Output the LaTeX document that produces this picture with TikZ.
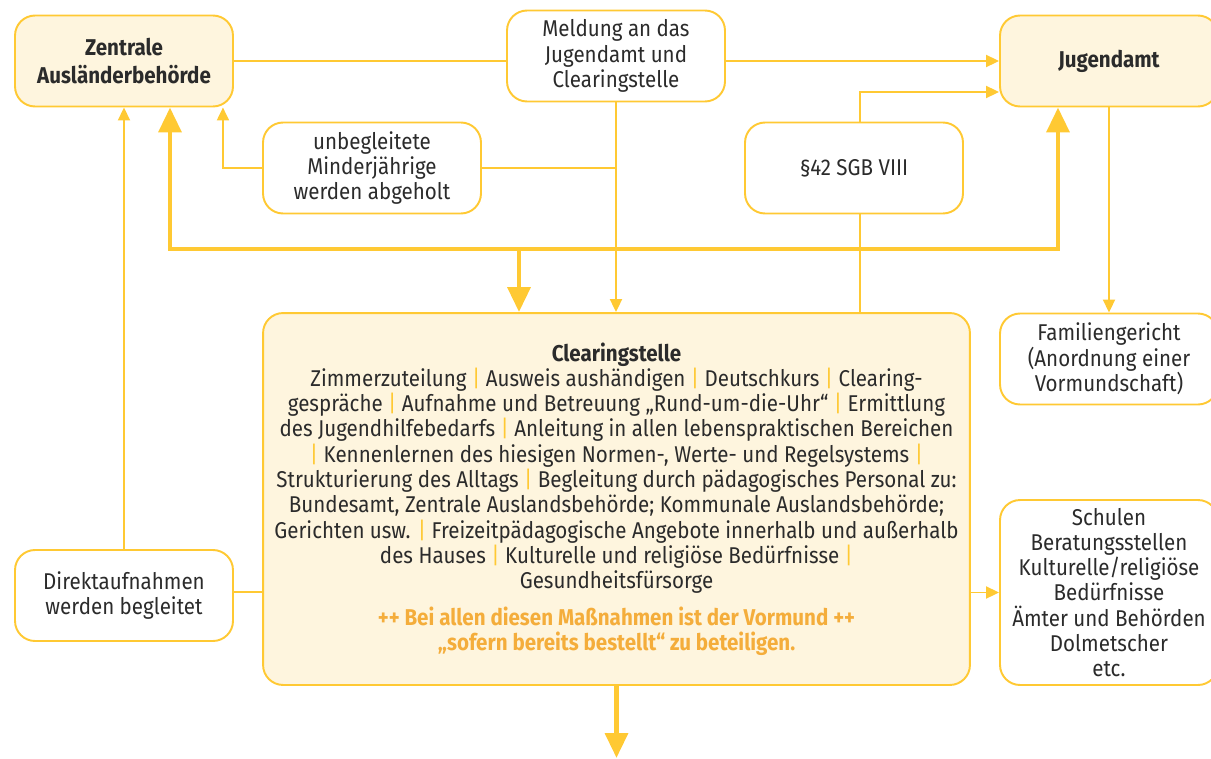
\documentclass[tikz,border=0pt]{standalone}
\usepackage{fontspec}
\setmainfont{Fira Sans}[FakeStretch=0.9]
\usepackage{tikz}
\usetikzlibrary{arrows.meta}
\definecolor{ClGold}{HTML}{FFC933}
\definecolor{ClCream}{HTML}{FEF5DE}
\definecolor{ClOrange}{HTML}{F4AD3B}
\definecolor{ClInk}{HTML}{2B2B2B}
\newcommand{\vsep}{\textcolor{ClGold}{|}}

\begin{document}
\begin{tikzpicture}[
  x=0.02cm, y=-0.02cm,
  font=\fontsize{13}{14.4}\selectfont,
  whitebox/.style={draw=ClGold, fill=white, line width=1.1pt, rounded corners=0.4cm, minimum width=4.36cm, minimum height=1.82cm, align=center, text=ClInk, inner sep=2pt},
  creambox/.style={whitebox, fill=ClCream},
  hd/.style={font=\fontsize{13}{15.4}\selectfont\bfseries},
  ln/.style={draw=ClGold, line width=1.1pt},
  ar/.style={ln, -{Triangle[length=0.26cm, width=0.24cm]}},
  bigln/.style={draw=ClGold, line width=2.8pt},
  bigar/.style={bigln, -{Triangle[length=0.5cm, width=0.45cm]}}
]
\useasboundingbox (0,0) rectangle (1211,758);
\node[creambox, hd] (zab) at (124,61) {Zentrale\\Ausländerbehörde};
\node[whitebox] (meld) at (616,56) {Meldung an das\\Jugendamt und\\Clearingstelle};
\node[creambox, hd] (jug) at (1109,61) {Jugendamt};
\node[whitebox] (unb) at (372,168) {unbegleitete\\Minderjährige\\werden abgeholt};
\node[whitebox] (sgb) at (854,168) {§42 SGB VIII};
\node[creambox, minimum width=14.14cm, minimum height=7.44cm] (cs) at (616.5,499) {{\bfseries Clearingstelle}\\
  Zimmerzuteilung \vsep{} Ausweis aushändigen \vsep{} Deutschkurs \vsep{} Clearing-\\
  gespräche \vsep{} Aufnahme und Betreuung „Rund-um-die-Uhr“ \vsep{} Ermittlung\\
  des Jugendhilfebedarfs \vsep{} Anleitung in allen lebenspraktischen Bereichen\\
  \vsep{} Kennenlernen des hiesigen Normen-, Werte- und Regelsystems \vsep\\
  Strukturierung des Alltags \vsep{} Begleitung durch pädagogisches Personal zu:\\
  Bundesamt, Zentrale Auslandsbehörde; Kommunale Auslandsbehörde;\\
  Gerichten usw. \vsep{} Freizeitpädagogische Angebote innerhalb und außerhalb\\
  des Hauses \vsep{} Kulturelle und religiöse Bedürfnisse \vsep\\
  Gesundheitsfürsorge\\[0.22cm]
  {\color{ClOrange}\bfseries ++ Bei allen diesen Maßnahmen ist der Vormund ++}\\
  {\color{ClOrange}\bfseries „sofern bereits bestellt“ zu beteiligen.}};
\node[whitebox] (fam) at (1109,359) {Familiengericht\\(Anordnung einer\\Vormundschaft)};
\node[whitebox, minimum height=3.7cm] (sch) at (1109,592.5) {Schulen\\Beratungsstellen\\Kulturelle/religiöse\\Bedürfnisse\\Ämter und Behörden\\Dolmetscher\\etc.};
\node[whitebox] (dir) at (124,595.5) {Direktaufnahmen\\werden begleitet};
\coordinate (hl) at (170,249);
\coordinate (hr) at (1058,249);
\coordinate (hm) at (519,249);
\coordinate (exit) at (616.5,758);
\draw[ln] (zab.east) -- (zab.east -| meld.west);
\draw[ar] (meld.east |- jug.west) -- (jug.west);
\draw[ar] (meld.south) -- (meld.south |- cs.north);
\draw[ln] (unb.east) -- (unb.east -| meld.south);
\draw[ar] (unb.west) -| ([xshift=-0.22cm]zab.south east);
\draw[ar] ([xshift=0.12cm]sgb.north) |- ([yshift=-0.62cm]jug.west);
\draw[ln] ([xshift=0.12cm]sgb.south) -- ([xshift=0.12cm]sgb.south |- cs.north);
\draw[bigln, {Triangle[length=0.5cm, width=0.45cm]}-{Triangle[length=0.5cm, width=0.45cm]}] (zab.south -| hl) -- (hl) -- (hr) -- (jug.south -| hr);
\draw[bigar] (hm) -- (hm |- cs.north);
\draw[ar] (jug.south) -- (fam.north);
\draw[ar] (sch.west -| cs.east) -- (sch.west);
\draw[ar] (dir.north) -- (zab.south);
\draw[ln] ([yshift=0.07cm]dir.east) -- ([yshift=0.07cm]dir.east -| cs.west);
\draw[bigar] (cs.south) -- (exit);
\end{tikzpicture}
\end{document}
